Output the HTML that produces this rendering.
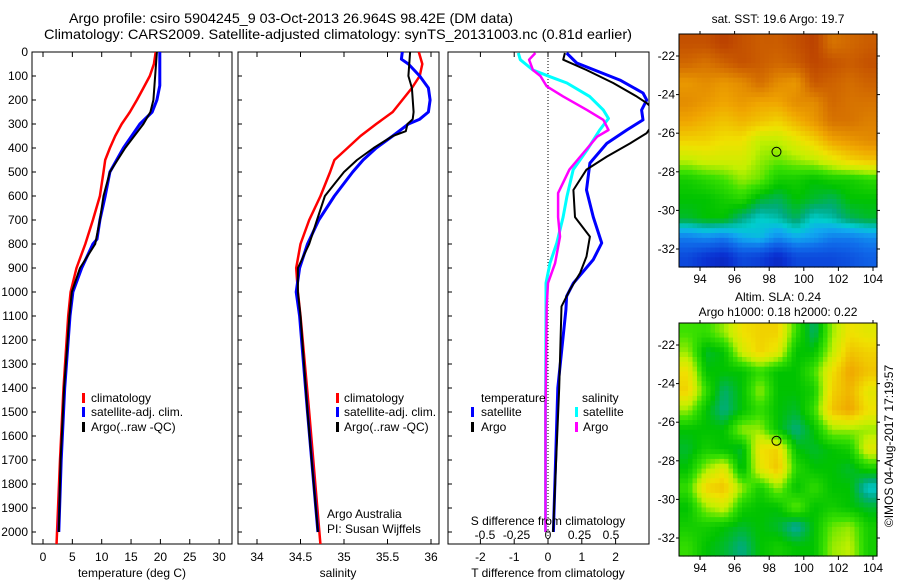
<!DOCTYPE html>
<html><head><meta charset="utf-8"><style>
html,body{margin:0;padding:0;background:#fff}
svg{display:block;font-family:"Liberation Sans",sans-serif}
text{fill:#000}
</style></head><body>
<svg id="fig" width="900" height="580" viewBox="0 0 900 580" xmlns="http://www.w3.org/2000/svg">
<defs>
<clipPath id="c1"><rect x="32" y="52" width="200" height="492"/></clipPath>
<clipPath id="c2"><rect x="238" y="52" width="201" height="492"/></clipPath>
<clipPath id="c3"><rect x="448" y="52" width="201" height="492"/></clipPath>
</defs>
<text x="69" y="23" font-size="14" textLength="444" lengthAdjust="spacingAndGlyphs">Argo profile: csiro 5904245_9 03-Oct-2013 26.964S 98.42E (DM data)</text>
<text x="44" y="39" font-size="14" textLength="588" lengthAdjust="spacingAndGlyphs">Climatology: CARS2009. Satellite-adjusted climatology: synTS_20131003.nc (0.81d earlier)</text>
<g id="g1"></g>
<g id="g2"></g>
<g id="g3"></g>
<g id="m1"></g>
<g id="m2"></g>
<text x="778" y="23" font-size="12" text-anchor="middle">sat. SST: 19.6 Argo: 19.7</text>
<text x="778" y="301" font-size="12" text-anchor="middle">Altim. SLA: 0.24</text>
<text x="778" y="316" font-size="12" text-anchor="middle">Argo h1000: 0.18 h2000: 0.22</text>
<text x="0" y="0" font-size="12" text-anchor="middle" transform="translate(893,446) rotate(-90)">©IMOS 04-Aug-2017 17:19:57</text>
</svg>
<script>
// ---- data ----
var depthTicks=[0,100,200,300,400,500,600,700,800,900,1000,1100,1200,1300,1400,1500,1600,1700,1800,1900,2000];
var tTicks=[0,5,10,15,20,25,30];
var sTicks=[34,34.5,35,35.5,36];
var sTickLabels=["34","34.5","35","35.5","36"];
var dTTicks=[-2,-1,0,1,2];
var dSTicks=[-0.5,-0.25,0,0.25,0.5];
var dSTickLabels=["-0.5","-0.25","0","0.25","0.5"];

var tClimDepth=[0,50,100,150,200,250,300,350,400,450,500,600,700,800,900,1000,1100,1400,1700,2055];
var tClimVal=[19.2,18.9,18.2,17.1,16.0,14.8,13.4,12.3,11.4,10.6,10.3,9.7,8.5,7.2,5.7,4.7,4.3,3.5,2.9,2.3];
var tSatDepth=[0,140,200,250,300,400,500,600,700,780,800,900,1000,1100,1400,1700,2000];
var tSatVal=[19.9,19.9,19.4,18.6,16.5,13.7,11.4,10.6,9.7,9.2,8.5,6.6,5.1,4.6,3.7,3.1,2.7];
var tArgoDepth=[0,200,250,300,400,500,600,700,800,900,1000,1100,1400,1700,2000];
var tArgoVal=[19.4,18.8,18.3,17.1,14.0,11.4,10.3,9.7,8.9,6.3,4.9,4.5,3.6,3.0,2.7];

var sClimDepth=[0,50,100,150,200,250,300,350,400,450,500,600,700,800,900,1000,1100,1500,2055];
var sClimVal=[35.86,35.9,35.87,35.78,35.67,35.56,35.37,35.19,35.04,34.89,34.84,34.73,34.6,34.5,34.45,34.47,34.5,34.6,34.73];
var sSatDepth=[0,30,50,100,150,200,250,280,300,350,400,450,500,600,700,800,900,1000,1100,1500,2000];
var sSatVal=[35.67,35.66,35.74,35.87,35.97,35.99,35.97,35.87,35.74,35.56,35.37,35.22,35.1,34.89,34.71,34.58,34.49,34.45,34.49,34.58,34.7];
var sArgoDepth=[0,100,150,250,280,300,330,350,400,450,500,550,600,700,800,900,1000,1100,1500,2000];
var sArgoVal=[35.76,35.74,35.78,35.8,35.79,35.73,35.71,35.56,35.34,35.15,35.0,34.89,34.78,34.69,34.6,34.47,34.47,34.5,34.58,34.7];

var dTSatDepth=[4,46,117,171,200,242,283,325,381,463,575,688,796,865,963,1018,1074,1400,2000];
var dTSatVal=[0.55,0.85,2.13,2.81,2.92,2.77,2.81,2.33,1.74,1.24,1.14,1.34,1.59,1.34,0.75,0.55,0.53,0.29,0.16];
var dTArgoDepth=[4,32,75,129,185,213,260,338,381,436,490,575,688,769,852,921,990,1060,1400,2000];
var dTArgoVal=[0.5,0.45,1.14,1.93,2.62,2.92,3.3,2.92,2.43,1.74,1.14,0.75,0.8,1.24,1.14,0.95,0.65,0.4,0.33,0.15];
var dSSatDepth=[4,32,75,103,129,185,242,277,325,408,490,603,688,796,880,963,1074,1500,2000];
var dSSatVal=[-0.236,-0.22,-0.12,0.016,0.15,0.33,0.44,0.48,0.41,0.31,0.2,0.15,0.12,0.07,0.016,-0.016,-0.016,-0.02,-0.02];
var dSArgoDepth=[4,32,75,100,143,185,242,283,325,353,421,490,588,688,769,880,963,1060,1500,2000];
var dSArgoVal=[-0.1,-0.15,-0.12,-0.06,-0.01,0.12,0.31,0.44,0.48,0.39,0.28,0.17,0.08,0.08,0.095,0.056,0,-0.01,-0.02,-0.02];

var lonTicks=[94,96,98,100,102,104];
var latTicks=[-22,-24,-26,-28,-30,-32];
var argoLon=98.42, argoLat=-26.964;
var sstGrid=[
[.9,.9,.93,.9,.88,.88,.9,.93,.84,.86,.88],
[.86,.84,.87,.9,.88,.86,.88,.92,.9,.88,.9],
[.78,.8,.78,.8,.85,.8,.78,.89,.87,.85,.87],
[.8,.78,.76,.78,.76,.76,.8,.8,.86,.84,.84],
[.76,.74,.72,.74,.72,.7,.74,.78,.84,.84,.82],
[.7,.7,.68,.68,.62,.62,.66,.7,.76,.78,.8],
[.62,.64,.64,.64,.6,.58,.6,.62,.66,.7,.72],
[.52,.54,.56,.6,.58,.52,.52,.5,.52,.52,.54],
[.5,.5,.52,.54,.48,.46,.5,.48,.46,.5,.5],
[.48,.5,.5,.44,.4,.42,.46,.4,.42,.46,.48],
[.3,.32,.3,.36,.38,.32,.36,.34,.3,.3,.32],
[.2,.15,.12,.2,.18,.12,.2,.2,.2,.22,.25]];
var slaGrid=[
[.56,.55,.6,.68,.7,.7,.55,.45,.6,.68,.66],
[.6,.48,.5,.64,.7,.66,.5,.5,.62,.72,.7],
[.68,.5,.5,.5,.55,.5,.5,.56,.68,.76,.72],
[.7,.55,.45,.5,.6,.5,.5,.52,.7,.74,.66],
[.6,.5,.44,.5,.55,.5,.48,.55,.72,.76,.68],
[.5,.5,.5,.6,.6,.5,.44,.5,.6,.6,.6],
[.48,.52,.5,.48,.68,.7,.5,.48,.5,.52,.66],
[.5,.6,.66,.48,.66,.72,.54,.5,.5,.48,.52],
[.55,.7,.72,.6,.52,.6,.5,.55,.5,.5,.4],
[.5,.6,.64,.52,.5,.5,.58,.5,.52,.5,.48],
[.52,.52,.5,.48,.5,.48,.42,.5,.58,.6,.52],
[.55,.5,.48,.44,.5,.52,.5,.5,.6,.62,.52]];

// ---- helpers ----
var NS="http://www.w3.org/2000/svg";
function mk(tag,attrs,parent){var e=document.createElementNS(NS,tag);for(var k in attrs)e.setAttribute(k,attrs[k]);parent.appendChild(e);return e;}
function yD(d){return 52+d*0.24;}
function xT(t){return 43+t*5.87;}
function xS(s){return 257+(s-34)*87;}
function xdT(t){return 548+t*33.8;}
function xdS(s){return 548+s*126;}
function line(g,xs,ds,fx,color,w,clip,name){
  var pts=xs.map(function(v,i){return fx(v).toFixed(1)+","+yD(ds[i]).toFixed(1);}).join(" ");
  var p=mk("polyline",{points:pts,fill:"none",stroke:color,"stroke-width":w,"clip-path":"url(#"+clip+")","stroke-linejoin":"round"},g);
  
  
}
function box(g,x0,x1,name){
  var r=mk("rect",{x:x0,y:52,width:x1-x0,height:492,fill:"#fff",stroke:"#000","stroke-width":1},g);
  
  
}
function xticks(g,vals,labels,fx,labelY,top){
  vals.forEach(function(v,i){
    var x=fx(v);
    mk("line",{x1:x,x2:x,y1:544,y2:539,stroke:"#000"},g);
    if(top)mk("line",{x1:x,x2:x,y1:52,y2:57,stroke:"#000"},g);
    if(labels){var t=mk("text",{x:x,y:labelY,"font-size":12,"text-anchor":"middle"},g);t.textContent=labels[i];
      
      }
  });
}
function txt(g,x,y,s,name,anchor){var t=mk("text",{x:x,y:y,"font-size":12,"text-anchor":anchor||"start"},g);t.textContent=s;
  
  return t;}
function legendMark(g,x,y,color,name){var r=mk("rect",{x:x,y:y-9,width:3,height:10,fill:color},g);
  
  }

// ---- panel 1 ----
var g1=document.getElementById("g1");
box(g1,32,232,"temperature-plot-area");
depthTicks.forEach(function(d){var y=yD(d);
  mk("line",{x1:32,x2:36,y1:y,y2:y,stroke:"#000"},g1);
  txt(g1,28,y+4,String(d),"y-tick-label","end");});
xticks(g1,tTicks,tTicks.map(String),xT,561,true);
txt(g1,132,577,"temperature (deg C)","x-axis-title-temperature","middle");
line(g1,tClimVal,tClimDepth,xT,"#ff0000",2.5,"c1","temperature-climatology-line");
line(g1,tSatVal,tSatDepth,xT,"#0000ff",3,"c1","temperature-satellite-line");
line(g1,tArgoVal,tArgoDepth,xT,"#000",2,"c1","temperature-argo-line");
legendMark(g1,82,402,"#ff0000","legend-climatology-marker");txt(g1,91,402,"climatology","legend-climatology");
legendMark(g1,82,416,"#0000ff","legend-satellite-marker");txt(g1,91,416,"satellite-adj. clim.","legend-satellite");
legendMark(g1,82,431,"#000","legend-argo-marker");txt(g1,91,431,"Argo(..raw -QC)","legend-argo");

// ---- panel 2 ----
var g2=document.getElementById("g2");
box(g2,238,439,"salinity-plot-area");
depthTicks.forEach(function(d){var y=yD(d);mk("line",{x1:238,x2:242,y1:y,y2:y,stroke:"#000"},g2);});
xticks(g2,sTicks,sTickLabels,xS,561,true);
txt(g2,338,577,"salinity","x-axis-title-salinity","middle");
line(g2,sClimVal,sClimDepth,xS,"#ff0000",2.5,"c2","salinity-climatology-line");
line(g2,sSatVal,sSatDepth,xS,"#0000ff",3,"c2","salinity-satellite-line");
line(g2,sArgoVal,sArgoDepth,xS,"#000",2,"c2","salinity-argo-line");
legendMark(g2,336,402,"#ff0000","legend-climatology-marker");txt(g2,344,402,"climatology","legend-climatology");
legendMark(g2,336,416,"#0000ff","legend-satellite-marker");txt(g2,344,416,"satellite-adj. clim.","legend-satellite");
legendMark(g2,336,431,"#000","legend-argo-marker");txt(g2,344,431,"Argo(..raw -QC)","legend-argo");
txt(g2,327,518,"Argo Australia","credit-line-1");
txt(g2,327,533,"PI: Susan Wijffels","credit-line-2");

// ---- panel 3 ----
var g3=document.getElementById("g3");
box(g3,448,649,"difference-plot-area");
depthTicks.forEach(function(d){var y=yD(d);mk("line",{x1:448,x2:452,y1:y,y2:y,stroke:"#000"},g3);});
xticks(g3,dTTicks,dTTicks.map(String),xdT,561,true);
var zl=mk("line",{x1:xdT(0),x2:xdT(0),y1:52,y2:544,stroke:"#000","stroke-dasharray":"1,2"},g3);


txt(g3,548,577,"T difference from climatology","x-axis-title-tdiff","middle");
line(g3,dSSatVal,dSSatDepth,xdS,"#00ffff",3,"c3","salinity-diff-satellite-line");
line(g3,dSArgoVal,dSArgoDepth,xdS,"#ff00ff",2.5,"c3","salinity-diff-argo-line");
line(g3,dTSatVal,dTSatDepth,xdT,"#0000ff",3,"c3","temperature-diff-satellite-line");
line(g3,dTArgoVal,dTArgoDepth,xdT,"#000",2,"c3","temperature-diff-argo-line");
txt(g3,548,525,"S difference from climatology","s-diff-axis-title","middle");
dSTicks.forEach(function(v,i){txt(g3,xdS(v),539,dSTickLabels[i],"s-diff-tick-label","middle");});
txt(g3,481,402,"temperature","legend-temperature-header");
legendMark(g3,471,416,"#0000ff","legend-t-satellite-marker");txt(g3,481,416,"satellite","legend-t-satellite");
legendMark(g3,471,431,"#000","legend-t-argo-marker");txt(g3,481,431,"Argo","legend-t-argo");
txt(g3,582,402,"salinity","legend-salinity-header");
legendMark(g3,575,416,"#00ffff","legend-s-satellite-marker");txt(g3,583,416,"satellite","legend-s-satellite");
legendMark(g3,575,431,"#ff00ff","legend-s-argo-marker");txt(g3,583,431,"Argo","legend-s-argo");

// ---- maps ----
var cmapStops=[[0,[10,10,140]],[0.15,[10,50,210]],[0.28,[16,110,235]],[0.36,[16,170,240]],[0.4,[0,205,205]],[0.44,[0,170,130]],[0.5,[0,195,0]],[0.56,[60,225,0]],[0.62,[195,240,0]],[0.68,[240,225,0]],[0.76,[240,165,0]],[0.84,[215,115,0]],[0.92,[190,70,0]],[1,[160,30,0]]];
function cmap(v){v=Math.max(0,Math.min(1,v));
  for(var i=1;i<cmapStops.length;i++){if(v<=cmapStops[i][0]){var a=cmapStops[i-1],b=cmapStops[i],f=(v-a[0])/(b[0]-a[0]);
    return "rgb("+[0,1,2].map(function(k){return Math.round(a[1][k]+(b[1][k]-a[1][k])*f);}).join(",")+")";}}
  return "rgb(160,30,0)";}
function drawMap(gid,grid,x0,y0,x1,y1,name){
  var g=document.getElementById(gid);
  var rows=grid.length,cols=grid[0].length,sub=4;
  var R=rows*sub,C=cols*sub,cw=(x1-x0)/C,ch=(y1-y0)/R;
  for(var r=0;r<R;r++)for(var c=0;c<C;c++){
    var fy=Math.max(0,Math.min(rows-1,(r+0.5)/sub-0.5)),fx=Math.max(0,Math.min(cols-1,(c+0.5)/sub-0.5));
    var r0=Math.floor(fy),c0=Math.floor(fx),r1=Math.min(rows-1,r0+1),c1=Math.min(cols-1,c0+1),ay=fy-r0,ax=fx-c0;
    var v=grid[r0][c0]*(1-ax)*(1-ay)+grid[r0][c1]*ax*(1-ay)+grid[r1][c0]*(1-ax)*ay+grid[r1][c1]*ax*ay;
    var cell=mk("rect",{x:(x0+c*cw).toFixed(2),y:(y0+r*ch).toFixed(2),width:(cw+0.6).toFixed(2),height:(ch+0.6).toFixed(2),fill:cmap(v)},g);
    
    
  }
  var fr=mk("rect",{x:x0,y:y0,width:x1-x0,height:y1-y0,fill:"none",stroke:"#000"},g);
  
  
  function lx(l){return 700+(l-94)*17.3;}
  var latTop=y0===34?56:345;
  function ly(l){return latTop+(-22-l)*19.3;}
  lonTicks.forEach(function(l){var x=lx(l);mk("line",{x1:x,x2:x,y1:y1,y2:y1+4,stroke:"#000"},g);mk("line",{x1:x,x2:x,y1:y0-3,y2:y0,stroke:"#000"},g);
    txt(g,x,y1+16,String(l),"lon-tick-label","middle");});
  latTicks.forEach(function(l){var y=ly(l);mk("line",{x1:x0-3,x2:x0,y1:y,y2:y,stroke:"#000"},g);mk("line",{x1:x1,x2:x1+3,y1:y,y2:y,stroke:"#000"},g);
    txt(g,x0-4,y+4,String(l),"lat-tick-label","end");});
  var c=mk("circle",{cx:lx(argoLon),cy:ly(argoLat),r:4.5,fill:"none",stroke:"#000","stroke-width":1},g);
  
  
}
drawMap("m1",sstGrid,679,34,877,267,"sst-map");
drawMap("m2",slaGrid,679,323,877,556,"sla-map");
</script>
</body></html>
